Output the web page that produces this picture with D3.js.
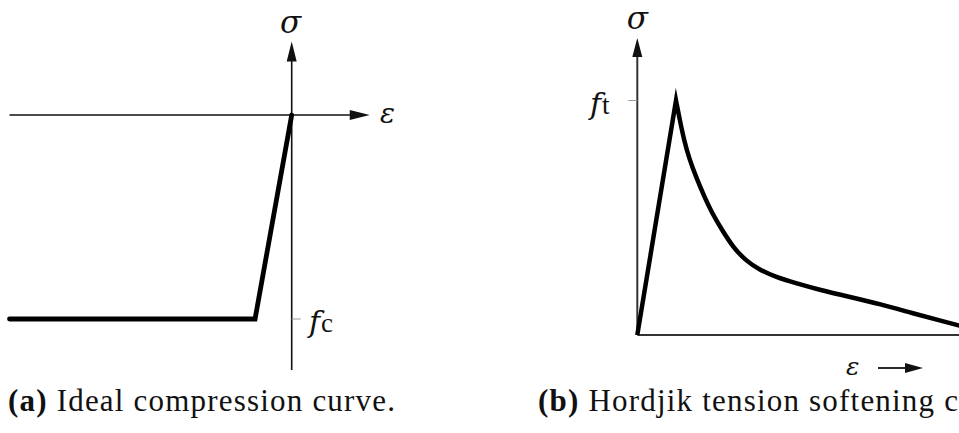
<!DOCTYPE html>
<html>
<head>
<meta charset="utf-8">
<script src="https://cdn.jsdelivr.net/npm/d3@7"></script>
<style>
  html, body { margin: 0; padding: 0; background: #fff; }
  svg { display: block; }
</style>
</head>
<body>
<svg id="fig" width="959" height="433"></svg>
<script>
// (a) Ideal compression curve: strain (arbitrary units) vs. stress normalised by f_c
const compStrain = [-7.7, -1, 0];
const compStress = [-1, -1, 0];
const compStrainAxis = [-7.7, 2.13];
const compStressAxis = [-1.25, 0.36];
const compTickLabel = ["f", "c"];

// (b) Hordijk tension softening curve: strain (in units of the peak strain) vs. stress / f_t
const tensStrain = [0, 1, 1.103, 1.207, 1.336, 1.517, 1.724, 1.930, 2.189, 2.473, 2.809, 3.171, 3.584, 4.075, 4.721, 5.496, 6.271, 7.124, 7.822, 8.313, 8.726];
const tensStress = [0, 1, 0.913, 0.832, 0.755, 0.674, 0.593, 0.520, 0.448, 0.375, 0.316, 0.277, 0.247, 0.222, 0.192, 0.162, 0.132, 0.0925, 0.0618, 0.0405, 0.0235];
const tensStrainAxis = [0, 8.9];
const tensStressAxis = [0, 1.267];
const tensTickLabel = ["f", "t"];

const captions = [
  { tag: "(a)", text: " Ideal compression curve." },
  { tag: "(b)", text: " Hordjik tension softening curve." }
];

const svg = d3.select("#fig");
const ink = "#111";
const mathFont = "'DejaVu Serif', serif";
const textFont = "'Liberation Serif', 'Times New Roman', 'DejaVu Serif', serif";

function arrowHead(g, tip, dir, len, half) {
  const [tx, ty] = tip, [dx, dy] = dir;
  const bx = tx - dx * len, by = ty - dy * len;
  const px = -dy * half, py = dx * half;
  g.append("path")
    .attr("d", `M${tx},${ty}L${bx + px},${by + py}L${bx - px},${by - py}Z`)
    .attr("fill", ink);
}

function mathText(g, x, y, size) {
  return g.append("text")
    .attr("x", x).attr("y", y)
    .attr("font-family", mathFont).attr("font-style", "italic")
    .attr("font-size", size).attr("fill", ink);
}

// ---------- panel (a) ----------
{
  const x = d3.scaleLinear().domain([-7.7, 0]).range([9.5, 291.7]);
  const y = d3.scaleLinear().domain([-1, 0]).range([319, 115]);
  const g = svg.append("g");

  g.append("line")
    .attr("x1", x(compStrainAxis[0])).attr("x2", x(compStrainAxis[1]) - 12)
    .attr("y1", y(0)).attr("y2", y(0))
    .attr("stroke", ink).attr("stroke-width", 1.6);
  arrowHead(g, [x(compStrainAxis[1]), y(0)], [1, 0], 20, 5);

  g.append("line")
    .attr("x1", x(0)).attr("x2", x(0))
    .attr("y1", y(compStressAxis[0])).attr("y2", y(compStressAxis[1]) + 12)
    .attr("stroke", ink).attr("stroke-width", 1.6);
  arrowHead(g, [x(0), y(compStressAxis[1])], [0, -1], 20, 5);

  g.append("line")
    .attr("x1", x(0)).attr("x2", x(0) + 9)
    .attr("y1", y(-1)).attr("y2", y(-1))
    .attr("stroke", "#999").attr("stroke-width", 1);

  const line = d3.line().x(d => x(d[0])).y(d => y(d[1]));
  g.append("path")
    .attr("d", line(d3.zip(compStrain, compStress)))
    .attr("fill", "none").attr("stroke", "#000")
    .attr("stroke-width", 4.8).attr("stroke-linejoin", "miter").attr("stroke-linecap", "round");

  mathText(g, x(0) - 1, 33, 31).attr("text-anchor", "middle").text("σ");
  mathText(g, 380, 123, 28).text("ε");
  const fc = mathText(g, 309, y(-1) + 13, 30);
  fc.append("tspan").text(compTickLabel[0]);
  fc.append("tspan").attr("font-style", "normal").attr("font-family", textFont)
    .attr("font-size", 27).attr("dx", 1).text(compTickLabel[1]);
}

// ---------- panel (b) ----------
{
  const x = d3.scaleLinear().domain([0, 1]).range([637.3, 676]);
  const y = d3.scaleLinear().domain([0, 1]).range([335, 100.5]);
  const g = svg.append("g");

  g.append("line")
    .attr("x1", x(0)).attr("x2", x(tensStrainAxis[1]))
    .attr("y1", y(0)).attr("y2", y(0))
    .attr("stroke", "#333").attr("stroke-width", 2);

  g.append("line")
    .attr("x1", x(0)).attr("x2", x(0))
    .attr("y1", y(0)).attr("y2", y(tensStressAxis[1]) + 12)
    .attr("stroke", "#333").attr("stroke-width", 2);
  arrowHead(g, [x(0), y(tensStressAxis[1])], [0, -1], 19, 5);

  g.append("line")
    .attr("x1", x(0) - 9).attr("x2", x(0))
    .attr("y1", y(1)).attr("y2", y(1))
    .attr("stroke", "#999").attr("stroke-width", 1);

  // linear rise to the peak, then a smoothed softening branch
  const pts = d3.zip(tensStrain, tensStress);
  const rise = d3.line().x(d => x(d[0])).y(d => y(d[1]))(pts.slice(0, 2));
  const soft = d3.line().x(d => x(d[0])).y(d => y(d[1]))
    .curve(d3.curveBasis)(pts.slice(1));
  g.append("path")
    .attr("d", rise + soft.replace(/^M/, "L"))
    .attr("fill", "none").attr("stroke", "#000")
    .attr("stroke-width", 4.5).attr("stroke-linejoin", "miter").attr("stroke-miterlimit", 10);

  mathText(g, x(0), 29, 31).attr("text-anchor", "middle").text("σ");
  const ft = mathText(g, 590, y(1) + 13, 30);
  ft.append("tspan").text(tensTickLabel[0]);
  ft.append("tspan").attr("font-style", "normal").attr("font-family", textFont)
    .attr("font-size", 27).attr("dx", 1).text(tensTickLabel[1]);

  mathText(g, 846, 375, 25).text("ε");
  g.append("line")
    .attr("x1", 878).attr("x2", 910).attr("y1", 368).attr("y2", 368)
    .attr("stroke", ink).attr("stroke-width", 1.8);
  arrowHead(g, [923, 368], [1, 0], 18, 5);
}

// ---------- captions ----------
const capX = [8, 538];
const capTarget = 387;
captions.forEach((c, i) => {
  const t = svg.append("text").attr("class", "caption")
    .attr("x", capX[i]).attr("y", 411)
    .attr("font-family", textFont).attr("font-size", 31).attr("fill", ink);
  t.append("tspan").attr("font-weight", "bold").text(c.tag);
  t.append("tspan").text(c.text);
});
// fit the caption set to its typeset width
const first = svg.selectAll("text.caption").nodes()[0];
const w = first.getComputedTextLength();
const n = (captions[0].tag + captions[0].text).length;
svg.selectAll("text.caption").attr("letter-spacing", (capTarget - w) / (n - 1));
</script>
</body>
</html>
